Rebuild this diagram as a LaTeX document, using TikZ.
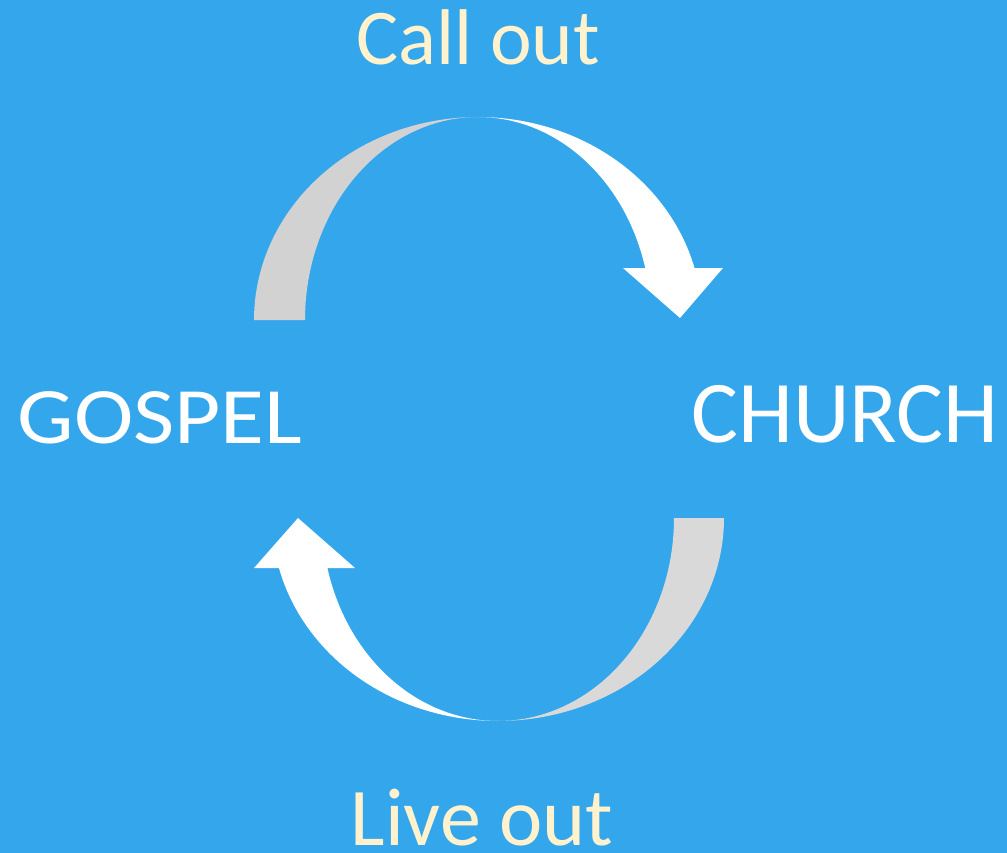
\documentclass[tikz,border=0pt]{standalone}
\usepackage{fontspec}
\setmainfont{Carlito}
\definecolor{bg}{RGB}{51,166,236}
\definecolor{backgray}{RGB}{210,210,210}
\definecolor{backgrayb}{RGB}{217,217,217}
\definecolor{cream}{RGB}{255,242,204}
\begin{document}
\begin{tikzpicture}[x=1pt,y=-1pt,
  lbl/.style={anchor=base,inner sep=0pt,text=cream,text depth=0pt},
  big/.style={anchor=base,inner sep=0pt,text=white,text depth=0pt}]
\fill[bg] (0,0) rectangle (1007,853);
\useasboundingbox (0,0) rectangle (1007,853);
% top arrow: back part
\fill[backgray] plot[domain=180:270,samples=80] ({478+224*cos(\x)},{320+203*sin(\x)})
  -- plot[domain=270:180,samples=80] ({478+173*cos(\x)},{320+203*sin(\x)}) -- cycle;
% top arrow: front part
\fill[white] plot[domain=270:345.16,samples=80] ({478+224*cos(\x)},{320+203*sin(\x)})
  -- (723,268) -- (680,318) -- (623,268)
  -- plot[domain=345.16:270,samples=80] ({478+173*cos(\x)},{320+203*sin(\x)}) -- cycle;
% bottom arrow: back part
\fill[backgrayb] plot[domain=0:90,samples=80] ({498+226*cos(\x)},{518+203*sin(\x)})
  -- plot[domain=90:0,samples=80] ({498+176*cos(\x)},{518+203*sin(\x)}) -- cycle;
% bottom arrow: front part
\fill[white] plot[domain=90:165.74,samples=80] ({498+226*cos(\x)},{518+203*sin(\x)})
  -- (254,568) -- (298,518) -- (355,568)
  -- plot[domain=165.74:90,samples=80] ({498+176*cos(\x)},{518+203*sin(\x)}) -- cycle;
\node[lbl,font=\fontsize{79}{90}\selectfont] (call) at (478,65) {Call out};
\node[lbl,font=\fontsize{82}{94}\selectfont] (live) at (482,845) {Live out};
\node[big,font=\fontsize{80}{92}\selectfont] (gospel) at (160,443) {\scalebox{1.12}[1]{GOSPEL}};
\node[big,font=\fontsize{88}{100}\selectfont] (church) at (845,442) {CHURCH};
\end{tikzpicture}
\end{document}
